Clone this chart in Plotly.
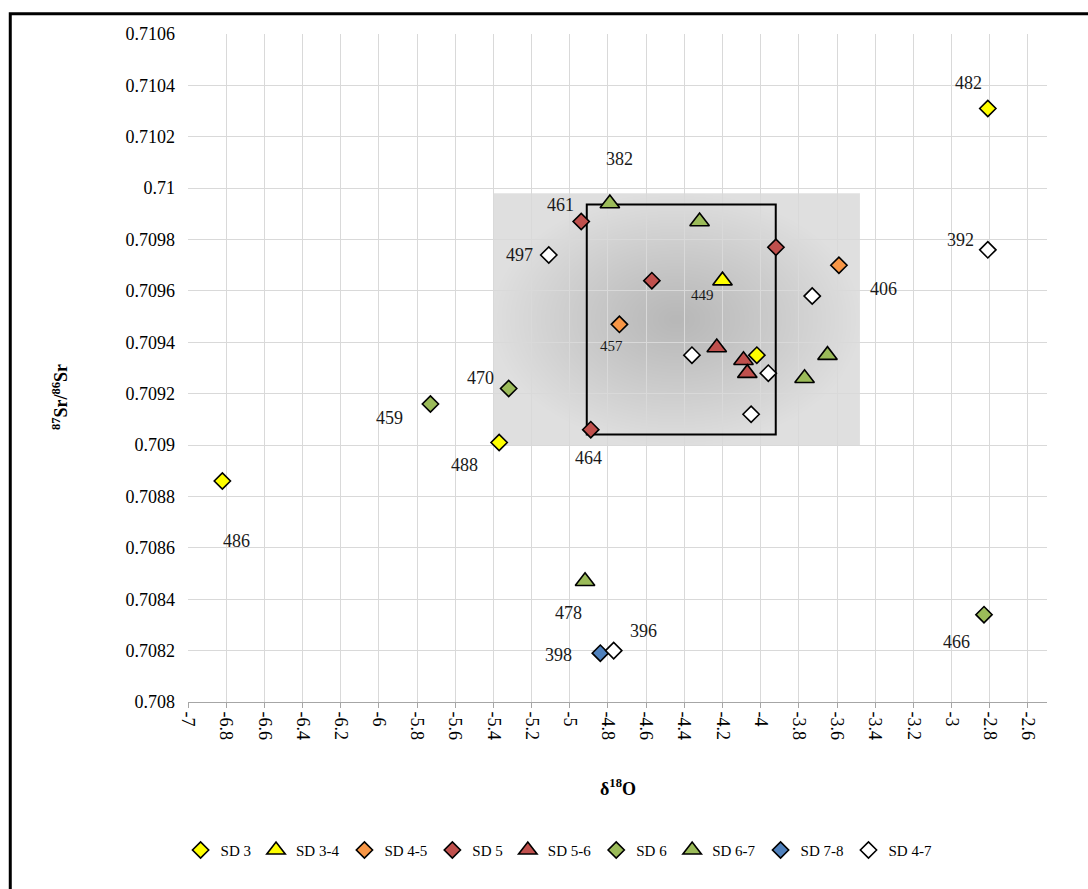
import base64
import struct
import zlib

import numpy as np
import plotly.graph_objects as go

# ---- sample data: delta18O (x) vs 87Sr/86Sr (y), grouped by stratigraphic unit ----
sd3_x = [-2.81, -6.82, -5.37, -4.02]
sd3_y = [0.71031, 0.70886, 0.70901, 0.70935]
sd3_id = ["482", "486", "488", ""]

sd34_x = [-4.20]
sd34_y = [0.70964]
sd34_id = ["449"]

sd45_x = [-4.74, -3.59]
sd45_y = [0.70947, 0.70970]
sd45_id = ["457", "406"]

sd5_x = [-4.94, -4.57, -3.92, -4.89]
sd5_y = [0.70987, 0.70964, 0.70977, 0.70906]
sd5_id = ["461", "", "", "464"]

sd56_x = [-4.23, -4.09, -4.07]
sd56_y = [0.70938, 0.70933, 0.70928]
sd56_id = ["", "", ""]

sd6_x = [-5.73, -5.32, -2.83]
sd6_y = [0.70916, 0.70922, 0.70834]
sd6_id = ["459", "470", "466"]

sd67_x = [-4.79, -4.32, -3.65, -3.77, -4.92]
sd67_y = [0.70994, 0.70987, 0.70935, 0.70926, 0.70847]
sd67_id = ["382", "", "", "", "478"]

sd78_x = [-4.84]
sd78_y = [0.70819]
sd78_id = ["398"]

sd47_x = [-4.77, -5.11, -2.81, -3.73, -4.36, -3.96, -4.05]
sd47_y = [0.70820, 0.70974, 0.70976, 0.70958, 0.70935, 0.70928, 0.70912]
sd47_id = ["396", "497", "392", "", "", "", ""]

x_ticks = [round(-7 + 0.2 * i, 1) for i in range(23)]
y_ticks = [round(0.708 + 0.0002 * i, 4) for i in range(14)]
x_tick_text = [f"{v:g}" for v in x_ticks]
y_tick_text = [f"{v:g}" for v in y_ticks]

# series table: name, symbol, fill colour, x, y, sample ids
series = [
    ("SD 3", "diamond", "#FFFF00", sd3_x, sd3_y, sd3_id),
    ("SD 3-4", "triangle-up", "#FFFF00", sd34_x, sd34_y, sd34_id),
    ("SD 4-5", "diamond", "#F79646", sd45_x, sd45_y, sd45_id),
    ("SD 5", "diamond", "#C0504D", sd5_x, sd5_y, sd5_id),
    ("SD 5-6", "triangle-up", "#C0504D", sd56_x, sd56_y, sd56_id),
    ("SD 6", "diamond", "#9BBB59", sd6_x, sd6_y, sd6_id),
    ("SD 6-7", "triangle-up", "#9BBB59", sd67_x, sd67_y, sd67_id),
    ("SD 7-8", "diamond", "#4F81BD", sd78_x, sd78_y, sd78_id),
    ("SD 4-7", "diamond", "#FFFFFF", sd47_x, sd47_y, sd47_id),
]

# pixel offsets (dx right, dy up) of each sample-id label from its marker
label_offsets = {
    "482": (-19, 26), "392": (-27, 10), "406": (45, -24), "382": (10, 45),
    "461": (-21, 17), "497": (-29, 0), "449": (-20, -14), "457": (-8, -22),
    "464": (-2, -28), "470": (-28, 11), "459": (-41, -14), "488": (-35, -22),
    "486": (14, -60), "478": (-17, -32), "398": (-42, -2), "396": (30, 20),
    "466": (-28, -27),
}
small_labels = {"449", "457"}

FONT = "Liberation Serif, Times New Roman, serif"
X_RANGE = [-7, -2.5]
Y_RANGE = [0.708, 0.7106]


def gray_png_uri(arr):
    """Encode a 2-D uint8 array as a greyscale PNG data URI."""
    h, w = arr.shape
    raw = b"".join(b"\x00" + arr[i].tobytes() for i in range(h))

    def chunk(tag, data):
        return (struct.pack(">I", len(data)) + tag + data
                + struct.pack(">I", zlib.crc32(tag + data) & 0xFFFFFFFF))

    png = (b"\x89PNG\r\n\x1a\n"
           + chunk(b"IHDR", struct.pack(">IIBBBBB", w, h, 8, 0, 0, 0, 0))
           + chunk(b"IDAT", zlib.compress(raw, 9))
           + chunk(b"IEND", b""))
    return "data:image/png;base64," + base64.b64encode(png).decode()


# shaded field with a radial grey gradient (drawn under the grid)
gx0, gx1, gy0, gy1 = -5.40, -3.48, 0.70900, 0.70998
gw, gh = 368, 252
u = (np.arange(gw) + 0.5) / gw * 2 - 1
v = (np.arange(gh) + 0.5) / gh * 2 - 1
U, V = np.meshgrid(u, v)
rr = np.clip(np.sqrt(U ** 2 + V ** 2), 0, 1)
shade = (184 + (223 - 184) * rr ** 1.1).astype(np.uint8)
gradient_uri = gray_png_uri(shade)

fig = go.Figure()

for name, sym, color, xs, ys, ids in series:
    tri = sym.startswith("triangle")
    fig.add_trace(go.Scatter(
        x=xs, y=ys, mode="markers", name=name,
        marker=dict(symbol=sym, size=17 if tri else 12.5, color=color,
                    line=dict(color="#000000", width=1.6)),
    ))

annotations = []
for name, sym, color, xs, ys, ids in series:
    for xv, yv, sid in zip(xs, ys, ids):
        if not sid:
            continue
        ox, oy = label_offsets[sid]
        annotations.append(dict(
            x=xv, y=yv, xref="x", yref="y", text=sid, showarrow=False,
            xshift=ox, yshift=oy,
            font=dict(family=FONT, size=15 if sid in small_labels else 18, color="#1a1a1a"),
        ))

# axis titles
annotations.append(dict(
    x=0.5, y=0, xref="paper", yref="paper", yshift=-99, showarrow=False,
    text="<b>δ<sup>18</sup>O</b>", font=dict(family=FONT, size=18, color="#000000"),
))
annotations.append(dict(
    x=0, y=0.4557, xref="paper", yref="paper", xshift=-141, showarrow=False,
    textangle=-90, text="<b><sup>87</sup>Sr/<sup>86</sup>Sr</b>",
    font=dict(family=FONT, size=18, color="#000000"),
))

shapes = [
    # sample window: above the grid and shading, below the markers
    dict(type="rect", xref="x", yref="y", x0=-4.911, x1=-3.921, y0=0.709041, y1=0.709936,
         line=dict(color="#000000", width=2), fillcolor="rgba(0,0,0,0)", layer="between"),
    # outer chart frame
    dict(type="rect", xref="paper", yref="paper", x0=-0.2069, x1=1.06, y0=-0.30, y1=1.0304,
         line=dict(color="#000000", width=3), fillcolor="rgba(0,0,0,0)"),
]

fig.update_layout(
    width=1088, height=889,
    margin=dict(l=188, r=41, t=34, b=187),
    paper_bgcolor="#ffffff", plot_bgcolor="#ffffff",
    font=dict(family=FONT, color="#000000"),
    showlegend=True,
    legend=dict(orientation="h", x=0.432, xanchor="center", y=-0.222, yanchor="middle",
                font=dict(family=FONT, size=15, color="#000000"),
                bgcolor="rgba(0,0,0,0)", itemwidth=30, traceorder="normal"),
    annotations=annotations,
    shapes=shapes,
    images=[dict(
        source=gradient_uri, xref="x", yref="y", x=gx0, y=gy1,
        sizex=gx1 - gx0, sizey=gy1 - gy0, xanchor="left", yanchor="top",
        sizing="stretch", layer="below",
    )],
    xaxis=dict(
        range=X_RANGE, tickvals=x_ticks, ticktext=x_tick_text, tickangle=90,
        showgrid=True, gridcolor="#d9d9d9", gridwidth=1, zeroline=False,
        showline=True, linecolor="#a6a6a6", linewidth=1,
        ticks="outside", ticklen=5, tickcolor="#a6a6a6",
        tickfont=dict(family=FONT, size=18, color="#000000"),
    ),
    yaxis=dict(
        range=Y_RANGE, tickvals=y_ticks, ticktext=y_tick_text,
        showgrid=True, gridcolor="#d9d9d9", gridwidth=1, zeroline=False,
        showline=False, ticks="", ticklabelstandoff=12,
        tickfont=dict(family=FONT, size=18, color="#000000"),
    ),
    yaxis2=dict(
        overlaying="y", side="right", range=Y_RANGE, tickvals=y_ticks,
        showgrid=False, zeroline=False, showline=True, linecolor="#a6a6a6", linewidth=1,
        ticks="inside", ticklen=5, tickcolor="#a6a6a6", showticklabels=False,
    ),
)

fig.write_html("out.html")
